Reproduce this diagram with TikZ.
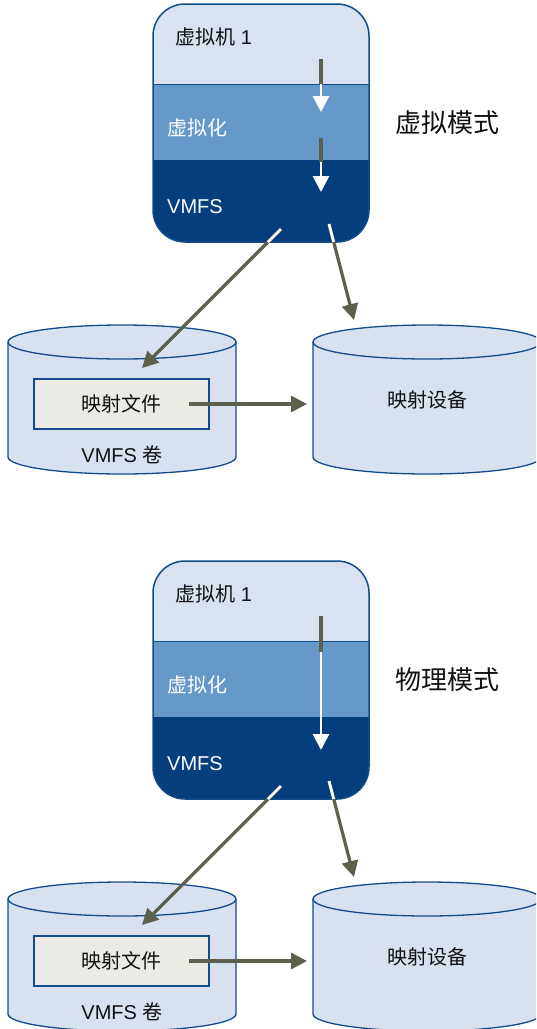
\documentclass[tikz,border=0pt]{standalone}
\usepackage{fontspec}
\setmainfont{Liberation Sans}
\newfontfamily\cjk{Noto Sans CJK SC}
\usetikzlibrary{arrows.meta}
\definecolor{vmlight}{HTML}{D9E2F0}
\definecolor{vmmid}{HTML}{6699C9}
\definecolor{vmdark}{HTML}{043E7D}
\definecolor{vmborder}{HTML}{0F4C8A}
\definecolor{cylfill}{HTML}{D8E1F0}
\definecolor{cylborder}{HTML}{124C8C}
\definecolor{mapfill}{HTML}{ECEAE4}
\definecolor{arrowgray}{HTML}{5E604E}
\definecolor{txt}{HTML}{111111}
\tikzset{
  lbl/.style={inner sep=0pt, text=txt, font=\fontsize{20}{22}\selectfont},
  wlbl/.style={lbl, text=white},
  modelbl/.style={inner sep=0pt, text=txt, font=\fontsize{26}{28}\selectfont\cjk},
  mapbox/.style={draw=cylborder, line width=1.3pt, fill=mapfill, minimum width=175pt, minimum height=50pt, inner sep=0pt, text=txt, font=\fontsize{20}{22}\selectfont\cjk},
  cylpath/.style={fill=cylfill, draw=cylborder, line width=1.3pt},
  conn/.style={draw=arrowgray, line width=3.2pt},
  connhead/.style={conn, -{Triangle[length=16pt,width=16pt]}},
  wconn/.style={draw=white, line width=2.8pt},
  wconnhead/.style={wconn, -{Triangle[length=16pt,width=16pt]}},
}
\newcommand\halfpart[2]{%
  % VM box
  \begin{scope}
    \clip[rounded corners=32pt] (153,-4) rectangle (369,-242);
    \fill[vmlight] (153,-4) rectangle (369,-84);
    \fill[vmmid] (153,-84) rectangle (369,-160);
    \fill[vmdark] (153,-160) rectangle (369,-242);
    \draw[vmborder, line width=1pt] (153,-84) -- (369,-84);
  \end{scope}
  \draw[vmborder, line width=1.5pt, rounded corners=32pt] (153,-4) rectangle (369,-242);
  \node[lbl, anchor=west] (vm#1) at (175,-37) {{\cjk 虚拟机} 1};
  \node[wlbl, anchor=west, font=\fontsize{20}{22}\selectfont\cjk] (virt#1) at (167,-128) {虚拟化};
  \node[wlbl, anchor=west] (vmfs#1) at (167,-207) {VMFS};
  \node[modelbl, anchor=west] (mode#1) at (395,-123) {#2};
  % left cylinder
  \fill[cylfill] (8,-342) -- (8,-457) arc[start angle=180, end angle=360, x radius=114, y radius=17] -- (236,-342) -- cycle;
  \draw[cylborder, line width=1.3pt] (8,-342) -- (8,-457) arc[start angle=180, end angle=360, x radius=114, y radius=17] -- (236,-342);
  \draw[cylpath] (122,-342) ellipse[x radius=114, y radius=17];
  \node[mapbox] (mf#1) at (121.5,-404) {映射文件};
  \node[lbl] (vol#1) at (122,-455) {VMFS {\cjk 卷}};
  % right cylinder
  \fill[cylfill] (313,-342) -- (313,-457) arc[start angle=180, end angle=360, x radius=114, y radius=17] -- (541,-342) -- cycle;
  \draw[cylborder, line width=1.3pt] (313,-342) -- (313,-457) arc[start angle=180, end angle=360, x radius=114, y radius=17] -- (541,-342);
  \draw[cylpath] (427,-342) ellipse[x radius=114, y radius=17];
  \node[lbl, font=\fontsize{20}{22}\selectfont\cjk] (dev#1) at (427,-400) {映射设备};
  % connectors out of the VM box
  \coordinate (ls#1) at (281,-229);
  \coordinate (lm#1) at (268,-242);
  \coordinate (le#1) at (142,-368);
  \draw[conn] (ls#1) -- (lm#1);
  \draw[connhead] (lm#1) -- (le#1);
  \draw[wconn] (ls#1) -- (lm#1);
  \coordinate (rs#1) at (329,-224);
  \coordinate (rm#1) at (333.7,-242);
  \coordinate (re#1) at (354,-320);
  \draw[conn] (rs#1) -- (rm#1);
  \draw[connhead] (rm#1) -- (re#1);
  \draw[wconn] (rs#1) -- (rm#1);
  \coordinate (hs#1) at (189,-404);
  \coordinate (he#1) at (307,-404);
  \draw[connhead] (hs#1) -- (he#1);
}
\begin{document}
\begin{tikzpicture}[x=1pt, y=1pt]
  \clip (0,0) rectangle (536,-1029);
  \fill[white] (0,0) rectangle (536,-1029);
  % upper half: virtual mode
  \halfpart{a}{虚拟模式}
  \coordinate (a1s) at (321,-59);
  \coordinate (a1m) at (321,-84);
  \coordinate (a1e) at (321,-112);
  \draw[conn] (a1s) -- (a1m);
  \draw[wconnhead] (a1m) -- (a1e);
  \coordinate (a2s) at (321,-138);
  \coordinate (a2m) at (321,-162);
  \coordinate (a2e) at (321,-192);
  \draw[conn] (a2s) -- (a2m);
  \draw[wconnhead] (a2m) -- (a2e);
  % lower half: physical mode
  \begin{scope}[yshift=-557pt]
    \halfpart{b}{物理模式}
    \coordinate (b1s) at (321,-59);
    \coordinate (b1m) at (321,-95);
    \coordinate (b1e) at (321,-193);
    \draw[conn] (b1s) -- (b1m);
    \draw[wconnhead] (b1m) -- (b1e);
  \end{scope}
\end{tikzpicture}
\end{document}
